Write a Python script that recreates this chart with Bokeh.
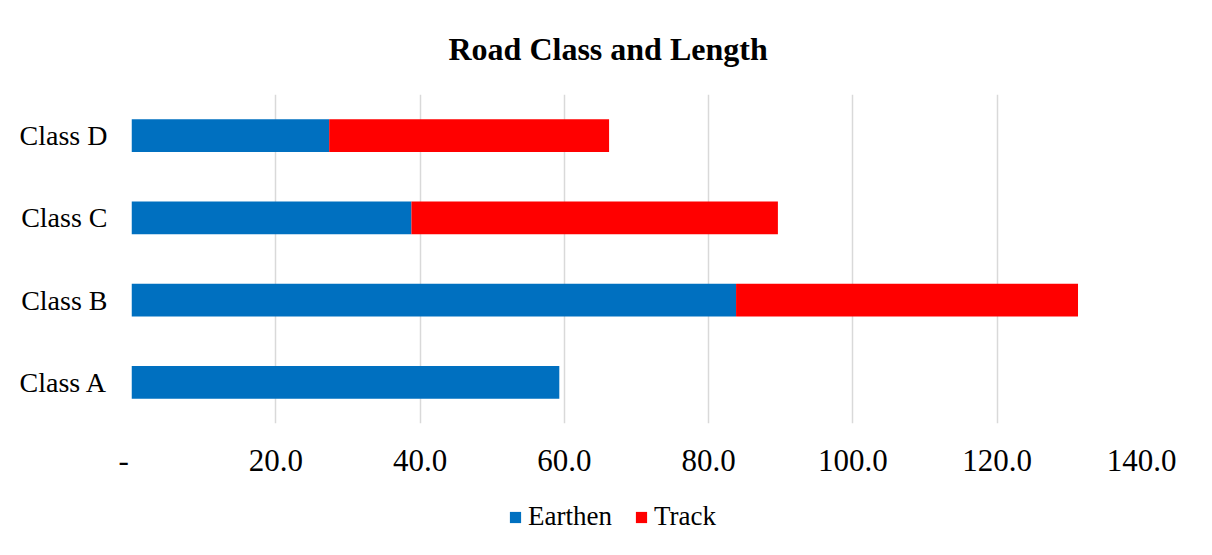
from bokeh.plotting import figure
from bokeh.layouts import column
from bokeh.models import Range1d, FixedTicker, Legend, LegendItem, ColumnDataSource
from bokeh.embed import file_html
from bokeh.resources import INLINE

categories = ["Class A", "Class B", "Class C", "Class D"]
earthen = [59.3, 83.8, 38.8, 27.4]
track = [0.0, 47.4, 50.8, 38.8]
x_ticks = [0, 20, 40, 60, 80, 100, 120, 140]
series_names = ["Earthen", "Track"]
series_colors = ["#0070C0", "#FF0000"]

source = ColumnDataSource(data=dict(cat=categories, Earthen=earthen, Track=track))

p = figure(width=1212, height=480, y_range=categories, x_range=Range1d(0, 140),
           output_backend="svg", toolbar_location=None,
           min_border_left=131, min_border_right=71, min_border_top=94,
           min_border_bottom=57)

renderers = p.hbar_stack(series_names, y="cat", height=0.4, color=series_colors,
                         line_width=0, source=source)

p.title.text = "Road Class and Length"
p.title.text_font = "Liberation Serif"
p.title.text_font_size = "32px"
p.title.text_font_style = "bold"
p.title.text_color = "#000000"
p.title.align = "left"
p.title.offset = 317
p.title.standoff = 56

p.xaxis.ticker = FixedTicker(ticks=x_ticks)
p.xaxis.major_label_overrides = {0: "-\u00a0\u00a0"}
for t in x_ticks[1:]:
    p.xaxis.major_label_overrides[t] = f"{t:.1f}"
p.xaxis.major_label_text_font = "Liberation Serif"
p.xaxis.major_label_text_font_size = "31px"
p.xaxis.major_label_text_color = "#000000"
p.xaxis.major_label_standoff = 13
p.xaxis.axis_line_color = None
p.xaxis.major_tick_line_color = None
p.xaxis.minor_tick_line_color = None

p.yaxis.major_label_text_font = "Liberation Serif"
p.yaxis.major_label_text_font_size = "28px"
p.yaxis.major_label_text_color = "#000000"
p.yaxis.major_label_standoff = 18
p.yaxis.axis_line_color = None
p.yaxis.major_tick_line_color = None
p.yaxis.minor_tick_line_color = None

p.xgrid.grid_line_color = "#d9d9d9"
p.xgrid.grid_line_width = 1.5
p.ygrid.grid_line_color = None
p.outline_line_color = None

# legend strip below the chart
p2 = figure(width=1212, height=75, x_range=Range1d(0, 1), y_range=Range1d(0, 1),
            output_backend="svg", toolbar_location=None,
            min_border_left=0, min_border_right=0, min_border_top=0, min_border_bottom=0)
p2.axis.visible = False
p2.grid.visible = False
p2.outline_line_color = None
offscreen = ColumnDataSource(data=dict(y=[-5], left=[-6], right=[-5]))
leg_renderers = [p2.hbar(y="y", left="left", right="right", height=0.1, fill_color=c,
                         line_color=None, source=offscreen)
                 for c in series_colors]

legend = Legend(items=[LegendItem(label=n, renderers=[r]) for n, r in zip(series_names, leg_renderers)],
                orientation="horizontal", location=(377, 23),
                label_text_font="Liberation Serif", label_text_font_size="27px",
                label_text_color="#000000", glyph_width=14, glyph_height=14,
                label_standoff=6, spacing=22, border_line_color=None,
                background_fill_alpha=0, margin=0, padding=4)
p2.add_layout(legend)

layout = column(p, p2, spacing=0)
open("out.html", "w").write(file_html(layout, INLINE))
